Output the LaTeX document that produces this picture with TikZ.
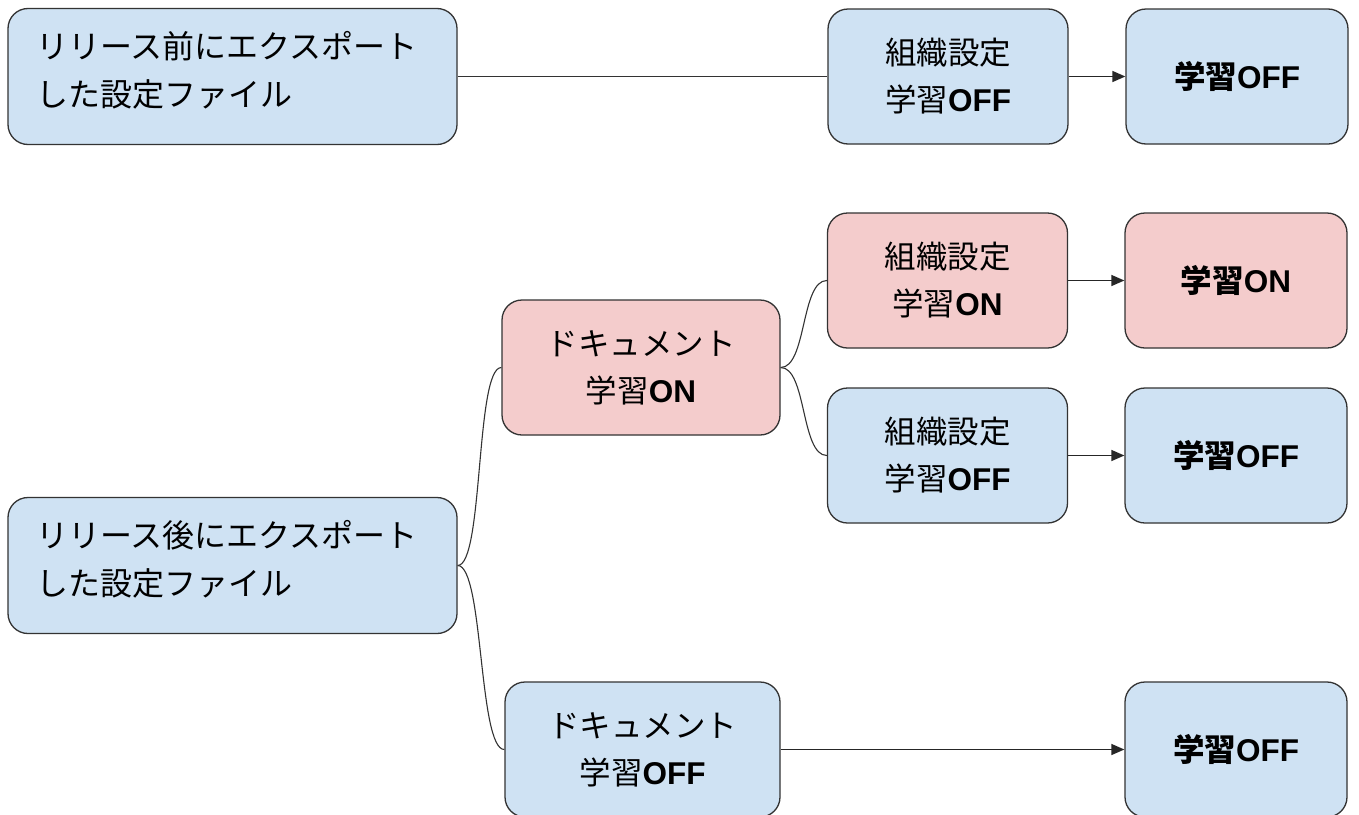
\documentclass[tikz,border=0pt]{standalone}
\usepackage{fontspec}
\setmainfont{Noto Sans CJK JP}
\newfontfamily\latfont{Liberation Sans}
\usetikzlibrary{arrows.meta,calc}
\definecolor{bluefill}{HTML}{CFE2F3}
\definecolor{pinkfill}{HTML}{F4CCCC}
\definecolor{edgecol}{HTML}{333333}
\newcommand{\sw}[1]{{\latfont\bfseries #1}}
\begin{document}
\begin{tikzpicture}[x=1pt,y=-1pt,
  box/.style={draw=edgecol, line width=1.3pt, rounded corners=20pt, inner sep=0pt,
    align=center, font=\fontsize{31.5}{47}\selectfont, text=black},
  bluebox/.style={box, fill=bluefill},
  pinkbox/.style={box, fill=pinkfill},
  bigbox/.style={bluebox, minimum width=449pt, minimum height=136pt, inner xsep=27pt,
    text width=395pt, align=left, font=\fontsize{32}{48}\selectfont},
  midbox/.style={minimum width=240pt, minimum height=135pt},
  resbox/.style={minimum width=222pt, minimum height=135pt, font=\fontsize{31.5}{47}\selectfont\bfseries},
  conn/.style={draw=edgecol, line width=1.1pt},
  arr/.style={draw=black!85, line width=1.4pt, -{Triangle[length=13pt,width=11pt]}}]
\useasboundingbox[fill=white] (0,0) rectangle (1359,814);

% top row
\node[bigbox] (pre) at (232.5,76.5) {};
\node[anchor=west, inner sep=0pt, align=left, font=\fontsize{32}{48}\selectfont] (pretext) at (36,70) {リリース前にエクスポート\\した設定ファイル};
\node[bluebox, midbox] (orgoffA) at (948,76.5) {組織設定\\学習\sw{OFF}};
\node[bluebox, resbox] (resA) at (1237,76.5) {学習\sw{OFF}};

% document ON branch
\node[pinkbox, minimum width=278pt, minimum height=135pt] (docon) at (641,367.5) {ドキュメント\\学習\sw{ON}};
\node[pinkbox, midbox] (orgon) at (947.5,280.5) {組織設定\\学習\sw{ON}};
\node[pinkbox, resbox] (resB) at (1236,280.5) {学習\sw{ON}};
\node[bluebox, midbox] (orgoffB) at (947.5,455.5) {組織設定\\学習\sw{OFF}};
\node[bluebox, resbox] (resC) at (1236,455.5) {学習\sw{OFF}};

% post
\node[bigbox] (post) at (232.5,565.5) {};
\node[anchor=west, inner sep=0pt, align=left, font=\fontsize{32}{48}\selectfont] (posttext) at (36,559) {リリース後にエクスポート\\した設定ファイル};

% document OFF branch
\node[bluebox, minimum width=275pt, minimum height=135pt] (docoff) at (642.5,749.5) {ドキュメント\\学習\sw{OFF}};
\node[bluebox, resbox] (resD) at (1236,749.5) {学習\sw{OFF}};

% connectors
\draw[conn] (pre.east) -- (orgoffA.west);
\draw[arr] (orgoffA.east) -- (resA.west);

\draw[conn] (post.east) .. controls ($(post.east)+(26,0)$) and ($(docon.west)+(-26,0)$) .. (docon.west);
\draw[conn] (post.east) .. controls ($(post.east)+(26,0)$) and ($(docoff.west)+(-26,0)$) .. (docoff.west);

\draw[conn] (docon.east) .. controls ($(docon.east)+(26,0)$) and ($(orgon.west)+(-26,0)$) .. (orgon.west);
\draw[conn] (docon.east) .. controls ($(docon.east)+(26,0)$) and ($(orgoffB.west)+(-26,0)$) .. (orgoffB.west);

\draw[arr] (orgon.east) -- (resB.west);
\draw[arr] (orgoffB.east) -- (resC.west);
\draw[arr] (docoff.east) -- (resD.west);
\end{tikzpicture}
\end{document}
